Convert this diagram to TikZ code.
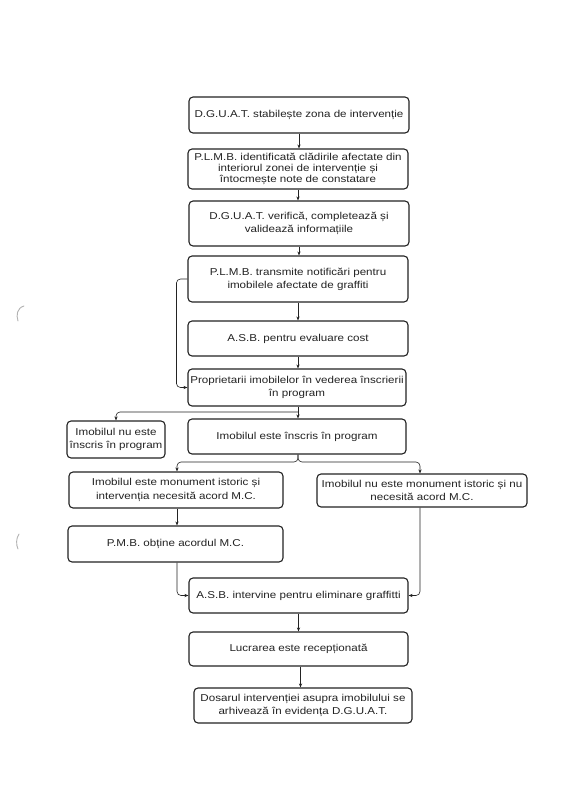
\documentclass[tikz,border=0pt]{standalone}
\usepackage{fontspec}
\setmainfont{Liberation Sans}[FakeStretch=1.16]
\usetikzlibrary{arrows.meta}
\definecolor{ink}{RGB}{35,35,35}
\tikzset{
  flowbox/.style={draw=ink, line width=1.1pt, rounded corners=4pt, align=center, inner sep=0pt,
    text=ink, font=\fontsize{10}{13.2}\selectfont},
  tight/.style={font=\fontsize{10}{11.3}\selectfont},
  arr/.style={draw=ink, line width=0.6pt, -{Stealth[length=4pt,width=3.2pt]}},
}
\begin{document}
\begin{tikzpicture}[x=1pt,y=-1pt]
\useasboundingbox (0,0) rectangle (585,802);
\fill[white] (0,0) rectangle (585,802);
% nodes: centre at ((x1+x2)/2,(y1+y2)/2)
\node[flowbox, minimum width=220, minimum height=36] (b1) at (299,115) {D.G.U.A.T. stabilește zona de intervenție};
\node[flowbox, tight, minimum width=220, minimum height=40] (b2) at (298,169) {P.L.M.B. identificată clădirile afectate din\\interiorul zonei de intervenție și\\întocmește note de constatare};
\node[flowbox, minimum width=220, minimum height=45] (b3) at (299,223.5) {D.G.U.A.T. verifică, completează și\\validează informațiile};
\node[flowbox, minimum width=220, minimum height=46] (b4) at (298,279) {P.L.M.B. transmite notificări pentru\\imobilele afectate de graffiti};
\node[flowbox, minimum width=220, minimum height=35] (b5) at (298,338.5) {A.S.B. pentru evaluare cost};
\node[flowbox, minimum width=218, minimum height=37] (b6) at (297,387.5) {Proprietarii imobilelor în vederea înscrierii\\în program};
\node[flowbox, minimum width=98, minimum height=37] (b7) at (116,439.5) {Imobilul nu este\\înscris în program};
\node[flowbox, minimum width=218, minimum height=35] (b8) at (297,436.5) {Imobilul este înscris în program};
\node[flowbox, minimum width=214, minimum height=36] (b9) at (176,490) {Imobilul este monument istoric și\\intervenția necesită acord M.C.};
\node[flowbox, minimum width=210, minimum height=33] (b10) at (422,490.5) {Imobilul nu este monument istoric și nu\\necesită acord M.C.};
\node[flowbox, minimum width=215, minimum height=36] (b11) at (175.5,544) {P.M.B. obține acordul M.C.};
\node[flowbox, minimum width=219, minimum height=35] (b12) at (298.5,595.5) {A.S.B. intervine pentru eliminare graffitti};
\node[flowbox, minimum width=219, minimum height=34] (b13) at (298.5,649) {Lucrarea este recepționată};
\node[flowbox, minimum width=218, minimum height=35] (b14) at (303,705.5) {Dosarul intervenției asupra imobilului se\\arhivează în evidența D.G.U.A.T.};
% connectors
\draw[arr] (b1.south) -- (b1.south |- b2.north);
\draw[arr] (b2.south) -- (b2.south |- b3.north);
\draw[arr] (b3.south) -- (b3.south |- b4.north);
\draw[arr] (b4.south) -- (b4.south |- b5.north);
\draw[arr] (b5.south) -- (b5.south |- b6.north);
\draw[arr, rounded corners=4pt] (b4.west) -- ++(-11,0) |- (b6.west);
\coordinate (j1) at (298,412);
\draw[arr] (b6.south -| j1) -- (j1 |- b8.north);
\draw[arr, rounded corners=4pt] (j1) -| (b7.north);
\coordinate (j2) at (298,462);
\draw[arr, rounded corners=4pt] (b8.south -| j2) -- (j2) -| ([xshift=1pt]b9.north);
\draw[arr, rounded corners=4pt] (b8.south -| j2) -- (j2) -| ([xshift=-2pt]b10.north);
\draw[arr] ([xshift=1pt]b9.south) -- ([xshift=1pt]b9.south |- b11.north);
\draw[arr, rounded corners=4pt] ([xshift=1.5pt]b11.south) |- (b12.west);
\draw[arr, rounded corners=4pt] ([xshift=-2pt]b10.south) |- (b12.east);
\draw[arr] (b12.south) -- (b12.south |- b13.north);
\draw[arr] ([xshift=2pt]b13.south) -- ([xshift=2pt]b13.south |- b14.north);
% scan marks at left margin
\draw[black!30, line width=0.9pt, line cap=round] (24,306) .. controls (17,308) and (16,315) .. (18,321);
\draw[black!30, line width=0.9pt, line cap=round] (19,534) .. controls (16,538) and (16,545) .. (18,549);
\end{tikzpicture}
\end{document}
